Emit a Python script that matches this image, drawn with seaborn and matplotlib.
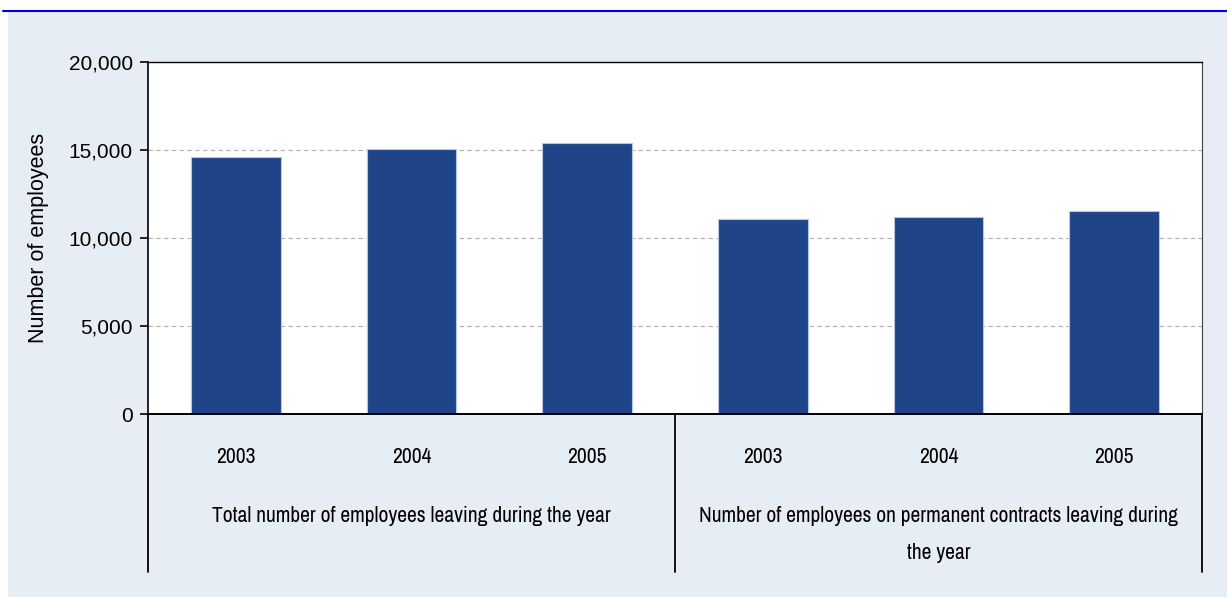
import pandas as pd
import matplotlib.pyplot as plt
import matplotlib.transforms as mtransforms
from matplotlib.patches import Rectangle
from matplotlib.ticker import FuncFormatter
import seaborn as sns

# === Data ===
groups = [
    "Total number of employees leaving during the year",
    "Number of employees on permanent contracts leaving during\nthe year",
]
years = ["2003", "2004", "2005"]
total_leaving = [14600, 15070, 15400]
permanent_leaving = [11080, 11200, 11550]

df = pd.DataFrame({
    "group": [groups[0]] * 3 + [groups[1]] * 3,
    "year": years + years,
    "employees": total_leaving + permanent_leaving,
})
df["key"] = df["group"].str[:5] + " " + df["year"]

# === Style ===
sns.set_style("white")
plt.rcParams["font.family"] = ["Liberation Sans", "DejaVu Sans"]
narrow = ["Archivo Narrow", "Liberation Sans", "DejaVu Sans"]

fig = plt.figure(figsize=(12.27, 5.97), dpi=100, facecolor="white")
# panel background + top rule
fig.add_artist(Rectangle((8 / 1227, 0), 1, (597 - 12) / 597,
                         transform=fig.transFigure, facecolor="#E6EDF5",
                         edgecolor="none", zorder=-10))
fig.add_artist(plt.Line2D([3 / 1227, 1], [1 - 11 / 597] * 2, transform=fig.transFigure,
                          color="#0000E0", lw=1.5))

ax = fig.add_axes([148 / 1227, 1 - 414 / 597, (1202 - 148) / 1227, (414 - 62) / 597])
ax.set_facecolor("white")

sns.barplot(data=df, x="key", y="employees", order=list(df["key"]), color="#1F4488",
            width=0.51, edgecolor="#B8C6E0", linewidth=0.8, saturation=1, ax=ax)

# === Axes ===
ax.set_ylim(0, 20000)
ax.set_yticks([0, 5000, 10000, 15000, 20000])
ax.yaxis.set_major_formatter(FuncFormatter(lambda v, p: f"{int(v):,}"))
ax.tick_params(axis="y", direction="out", length=6, width=1.2, color="black",
               labelsize=15, labelcolor="black", pad=5, left=True)
ax.set_ylabel("Number of employees", fontsize=15.5, color="black", labelpad=14)
ax.set_xlabel("")
ax.grid(True, axis="y", linestyle=(0, (4, 3)), color="#B0B0B0", linewidth=0.8)
ax.set_axisbelow(True)

for side in ["left", "bottom", "top"]:
    ax.spines[side].set_color("black")
ax.spines["left"].set_linewidth(1.2)
ax.spines["bottom"].set_linewidth(1.4)
ax.spines["top"].set_linewidth(1.0)
ax.spines["right"].set_color("#404040")
ax.spines["right"].set_linewidth(0.8)

# year labels
ax.set_xticks(range(len(df)))
ax.set_xticklabels(list(df["year"]), family=narrow, fontsize=15.5, color="black")
ax.tick_params(axis="x", length=0, pad=24)

# group labels and separators
trans = mtransforms.blended_transform_factory(ax.transData, ax.transAxes)
for i, g in enumerate(groups):
    ax.text(i * 3 + 1, -0.26, g, transform=trans, ha="center", va="top",
            fontsize=15.5, family=narrow, color="black", linespacing=2.1)
for xs in [-0.5, 2.5, 5.5]:
    ax.plot([xs, xs], [0, -0.449], transform=trans, color="black", lw=1.3, clip_on=False)
ax.set_xlim(-0.5, 5.5)

plt.savefig("out.png", dpi=100, facecolor=fig.get_facecolor())
